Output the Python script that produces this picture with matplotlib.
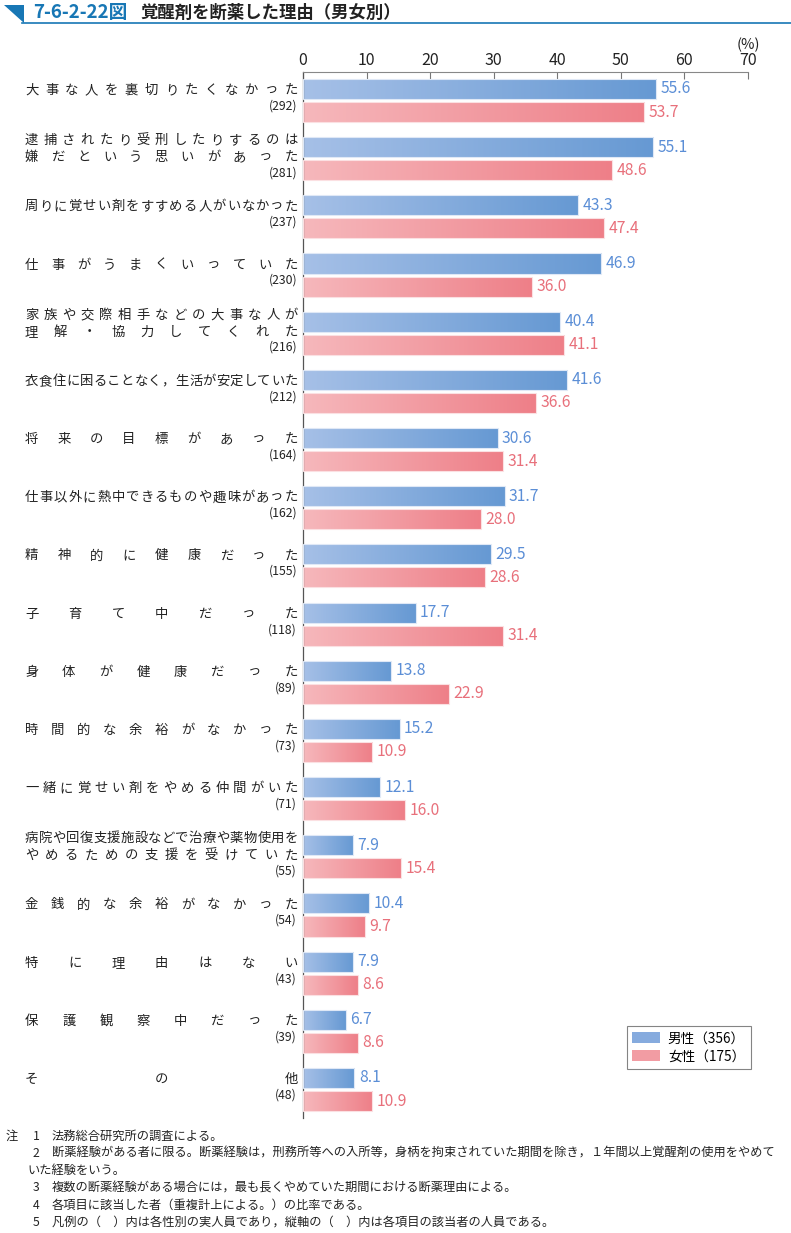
import numpy as np
import matplotlib
matplotlib.use('Agg')
import matplotlib.pyplot as plt
from matplotlib.colors import LinearSegmentedColormap
from matplotlib.patches import Patch, Polygon
from matplotlib.transforms import blended_transform_factory

plt.rcParams['font.family'] = ['Noto Sans CJK JP', 'DejaVu Sans']

labels = [
    '大事な人を裏切りたくなかった',
    '逮捕されたり受刑したりするのは\n嫌だという思いがあった',
    '周りに覚せい剤をすすめる人がいなかった',
    '仕事がうまくいっていた',
    '家族や交際相手などの大事な人が\n理解・協力してくれた',
    '衣食住に困ることなく，生活が安定していた',
    '将来の目標があった',
    '仕事以外に熱中できるものや趣味があった',
    '精神的に健康だった',
    '子育て中だった',
    '身体が健康だった',
    '時間的な余裕がなかった',
    '一緒に覚せい剤をやめる仲間がいた',
    '病院や回復支援施設などで治療や薬物使用を\nやめるための支援を受けていた',
    '金銭的な余裕がなかった',
    '特に理由はない',
    '保護観察中だった',
    'その他',
]
counts = [292, 281, 237, 230, 216, 212, 164, 162, 155, 118, 89, 73, 71, 55, 54, 43, 39, 48]
male = [55.6, 55.1, 43.3, 46.9, 40.4, 41.6, 30.6, 31.7, 29.5, 17.7, 13.8, 15.2, 12.1, 7.9, 10.4, 7.9, 6.7, 8.1]
female = [53.7, 48.6, 47.4, 36.0, 41.1, 36.6, 31.4, 28.0, 28.6, 31.4, 22.9, 10.9, 16.0, 15.4, 9.7, 8.6, 8.6, 10.9]
legend_labels = ['男性（356）', '女性（175）']
notes = [
    ('注', '1', '法務総合研究所の調査による。'),
    ('', '2', '断薬経験がある者に限る。断薬経験は，刑務所等への入所等，身柄を拘束されていた期間を除き，１年間以上覚醒剤の使用をやめて'),
    ('', '', 'いた経験をいう。'),
    ('', '3', '複数の断薬経験がある場合には，最も長くやめていた期間における断薬理由による。'),
    ('', '4', '各項目に該当した者（重複計上による。）の比率である。'),
    ('', '5', '凡例の（　）内は各性別の実人員であり，縦軸の（　）内は各項目の該当者の人員である。'),
]

W, H = 791, 1233
fig = plt.figure(figsize=(W / 100, H / 100), dpi=100)

def fx(px):
    return px / W

def fy(py):
    return 1 - py / H

ax_top, ax_bot = 72, 1118
ax = fig.add_axes([fx(303), fy(ax_bot), fx(748) - fx(303), (ax_bot - ax_top) / H])

male_cmap = LinearSegmentedColormap.from_list('m', ['#a6c0e7', '#6699d3'])
female_cmap = LinearSegmentedColormap.from_list('f', ['#f6b8bc', '#ee7f88'])
grad = np.linspace(0, 1, 256).reshape(1, -1)

y = np.arange(len(labels))
off = 0.198
h = 0.345
mbars = ax.barh(y - off, male, height=h, color='none', edgecolor='#dfe8f6', linewidth=0.8, zorder=3)
fbars = ax.barh(y + off, female, height=h, color='none', edgecolor='#fbe0e2', linewidth=0.8, zorder=3)
for bars, cmap in [(mbars, male_cmap), (fbars, female_cmap)]:
    for b in bars:
        x0, y0 = b.get_x(), b.get_y()
        im = ax.imshow(grad, extent=(x0, x0 + b.get_width(), y0, y0 + b.get_height()),
                       aspect='auto', cmap=cmap, zorder=2)
        im.set_clip_path(b)

for i in range(len(labels)):
    ax.text(male[i] + 0.7, y[i] - off, f'{male[i]:.1f}', va='center', ha='left',
            fontsize=11.3, color='#5b8ed6')
    ax.text(female[i] + 0.7, y[i] + off, f'{female[i]:.1f}', va='center', ha='left',
            fontsize=11.3, color='#e8707b')

ax.set_xlim(0, 70)
ax.set_ylim(len(labels) - 1 + 0.49, -0.49)
ax.xaxis.tick_top()
ax.set_xticks(range(0, 71, 10))
ax.tick_params(axis='x', direction='in', length=5, color='#777777', labelsize=11.5,
               pad=2, labelcolor='#222222')
ax.set_yticks([])
for s in ['right', 'bottom']:
    ax.spines[s].set_visible(False)
ax.spines['top'].set_color('#888888')
ax.spines['left'].set_color('#555555')
ax.spines['top'].set_linewidth(0.8)
ax.spines['left'].set_linewidth(0.9)
fig.text(fx(748), fy(45), '(%)', ha='center', va='center', fontsize=10.5, color='#222222')

# category labels, spread evenly over the label column
trans = blended_transform_factory(fig.transFigure, ax.transData)
px_per_unit = (ax_bot - ax_top) / (ax.get_ylim()[0] - ax.get_ylim()[1])
left, right, cw = 25, 298, 13.3
for i, lab in enumerate(labels):
    lines = lab.split('\n')
    ym = y[i] - off
    if len(lines) == 1:
        line_y = [ym + 1 / px_per_unit]
        cnt_y = ym + 17 / px_per_unit
    else:
        line_y = [ym - 7 / px_per_unit, ym + 10 / px_per_unit]
        cnt_y = ym + 25.5 / px_per_unit
    for line, ly in zip(lines, line_y):
        n = len(line)
        step = (right - left - cw) / (n - 1)
        for k, ch in enumerate(line):
            cx = left + cw / 2 + k * step
            ax.text(fx(cx), ly, ch, transform=trans, ha='center', va='center',
                    fontsize=9.6, color='#222222')
    ax.text(fx(297), cnt_y, f'({counts[i]})', transform=trans, ha='right', va='center',
            fontsize=8.8, color='#222222')

handles = [Patch(facecolor='#86abde', edgecolor='none'), Patch(facecolor='#f29ca3', edgecolor='none')]
leg = fig.legend(handles, legend_labels, loc='upper left',
                 bbox_to_anchor=(fx(627), fy(1026)), frameon=True, fancybox=False,
                 fontsize=9.8, handlelength=2.0, handleheight=0.9, borderpad=0.4,
                 labelspacing=0.3, handletextpad=0.6, borderaxespad=0)
leg.get_frame().set_edgecolor('#666666')
leg.get_frame().set_linewidth(0.8)

# header
blue = '#1877b5'
fig.patches.append(Polygon([[fx(4), fy(5)], [fx(24), fy(5)], [fx(24), fy(23)]],
                           closed=True, transform=fig.transFigure, facecolor=blue, edgecolor='none'))
fig.add_artist(plt.Line2D([fx(22), fx(791)], [fy(23), fy(23)], transform=fig.transFigure,
                          color=blue, linewidth=1.2))
fig.text(fx(33), fy(13), '7-6-2-22図', fontsize=13.5, fontweight='bold', color=blue,
         ha='left', va='center')
fig.text(fx(140), fy(13), '覚醒剤を断薬した理由（男女別）', fontsize=12.5, fontweight='bold',
         color='#222222', ha='left', va='center')

# notes
ny = 1136
for a, num, txt in notes:
    if a:
        fig.text(fx(6), fy(ny), a, fontsize=8.8, ha='left', va='center', color='#222222')
    if num:
        fig.text(fx(36), fy(ny), num, fontsize=8.8, ha='center', va='center', color='#222222')
        fig.text(fx(52), fy(ny), txt, fontsize=8.8, ha='left', va='center', color='#222222')
    else:
        fig.text(fx(27), fy(ny), txt, fontsize=8.8, ha='left', va='center', color='#222222')
    ny += 17.3

fig.savefig('out.png', dpi=100)
